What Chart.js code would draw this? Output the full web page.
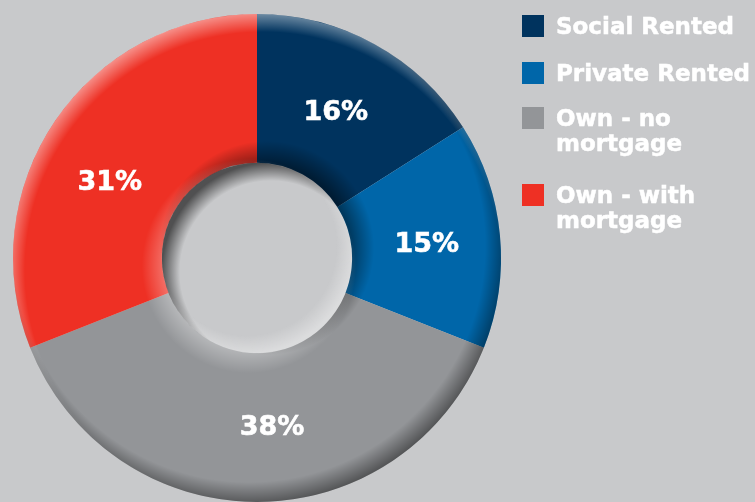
<!DOCTYPE html>
<html>
<head>
<meta charset="utf-8">
<script src="https://cdn.jsdelivr.net/npm/chart.js@4"></script>
<style>
  html, body { margin: 0; padding: 0; background: #c8c9cb; }
  #wrap { position: relative; width: 755px; height: 502px; overflow: hidden; background: #c8c9cb; }
  #c { position: absolute; left: 0; top: 0; }
  #legend { position: absolute; left: 522px; top: 0; margin: 0; padding: 0; list-style: none;
            font-family: "DejaVu Sans", Verdana, sans-serif; font-weight: bold; font-size: 23px;
            color: #ffffff; line-height: 25px; -webkit-text-stroke: 0.5px #ffffff; }
  #legend li { position: absolute; left: 0; padding-left: 34px; white-space: nowrap; }
  #legend li span.sw { position: absolute; left: 0; top: 0; width: 22px; height: 22px; }
  #legend li span.tx { display: block; position: relative; top: -1px; }
</style>
</head>
<body>
<div id="wrap">
  <canvas id="c" width="755" height="502"></canvas>
  <ul id="legend"></ul>
</div>
<script>
const categories = ["Social Rented", "Private Rented", "Own - no mortgage", "Own - with mortgage"];
const legendLines = [["Social Rented"], ["Private Rented"], ["Own - no", "mortgage"], ["Own - with", "mortgage"]];
const shares = [16, 15, 38, 31];
const colors = ["#00335e", "#0066a9", "#939598", "#ee3024"];

// layout (not data)
const legendTops = [15, 62, 107, 184];
const labelNudge = [[-3, 4], [1, 3], [15, 0], [-7, 20]];

const ul = document.getElementById('legend');
legendLines.forEach((lines, i) => {
  const li = document.createElement('li');
  li.style.top = legendTops[i] + 'px';
  const sw = document.createElement('span'); sw.className = 'sw'; sw.style.background = colors[i];
  const tx = document.createElement('span'); tx.className = 'tx';
  tx.innerHTML = lines.join('<br>');
  li.appendChild(sw); li.appendChild(tx); ul.appendChild(li);
});

function ringPath(ctx, cx, cy, R, r) {
  ctx.beginPath();
  ctx.arc(cx, cy, R, 0, Math.PI * 2);
  ctx.arc(cx, cy, r, 0, Math.PI * 2, true);
}
function offGrad(ctx, cx, cy, ox, oy, d0, d1, c0, c1) {
  const rad = Math.max(d0, d1);
  const g = ctx.createRadialGradient(cx + ox, cy + oy, 0, cx + ox, cy + oy, rad);
  const a = Math.min(d0, d1) / rad;
  if (d0 < d1) { g.addColorStop(0, c0); g.addColorStop(a, c0); g.addColorStop(1, c1); }
  else { g.addColorStop(0, c1); g.addColorStop(a, c1); g.addColorStop(1, c0); }
  return g;
}

const shading = {
  id: 'shading',
  afterDatasetsDraw(chart) {
    const a = chart.getDatasetMeta(0).data[0];
    if (!a) return;
    const cx = a.x, cy = a.y, R = a.outerRadius, r = a.innerRadius;
    const ctx = chart.ctx;
    ctx.save();
    ringPath(ctx, cx, cy, R, r);
    ctx.clip();
    ctx.fillStyle = offGrad(ctx, cx, cy, 6, 12, R + 13, R - 6, 'rgba(255,255,255,0.45)', 'rgba(255,255,255,0)');
    ctx.fillRect(cx - R, cy - R, 2 * R, 2 * R);
    ctx.fillStyle = offGrad(ctx, cx, cy, -8, -12, R + 15, R - 8, 'rgba(0,0,0,0.45)', 'rgba(0,0,0,0)');
    ctx.fillRect(cx - R, cy - R, 2 * R, 2 * R);
    ctx.fillStyle = offGrad(ctx, cx, cy, 10, -10, r - 12, r + 12, 'rgba(0,0,0,0.45)', 'rgba(0,0,0,0)');
    ctx.fillRect(cx - R, cy - R, 2 * R, 2 * R);
    ctx.fillStyle = offGrad(ctx, cx, cy, -8, 8, r - 10, r + 12, 'rgba(255,255,255,0.30)', 'rgba(255,255,255,0)');
    ctx.fillRect(cx - R, cy - R, 2 * R, 2 * R);
    ctx.restore();

    ctx.save();
    ctx.beginPath();
    ctx.arc(cx, cy, r, 0, Math.PI * 2);
    ctx.clip();
    ctx.fillStyle = offGrad(ctx, cx, cy, 14, 14, r - 4, r + 14, 'rgba(0,0,0,0)', 'rgba(0,0,0,0.6)');
    ctx.fillRect(cx - r, cy - r, 2 * r, 2 * r);
    ctx.fillStyle = offGrad(ctx, cx, cy, -10, -12, r - 6, r + 12, 'rgba(255,255,255,0)', 'rgba(255,255,255,0.35)');
    ctx.fillRect(cx - r, cy - r, 2 * r, 2 * r);
    ctx.restore();
  }
};

const labelsPlugin = {
  id: 'pctLabels',
  afterDatasetsDraw(chart) {
    const meta = chart.getDatasetMeta(0);
    const ctx = chart.ctx;
    ctx.save();
    ctx.fillStyle = '#ffffff';
    ctx.strokeStyle = '#ffffff';
    ctx.lineWidth = 0.6;
    ctx.font = 'bold 27px "DejaVu Sans", Verdana, sans-serif';
    ctx.textAlign = 'center';
    ctx.textBaseline = 'middle';
    meta.data.forEach((el, i) => {
      const p = el.tooltipPosition();
      const x = p.x + labelNudge[i][0], y = p.y + labelNudge[i][1];
      ctx.fillText(shares[i] + '%', x, y);
      ctx.strokeText(shares[i] + '%', x, y);
    });
    ctx.restore();
  }
};

new Chart(document.getElementById('c'), {
  type: 'doughnut',
  data: {
    labels: categories,
    datasets: [{
      data: shares,
      backgroundColor: colors,
      borderWidth: 0,
      hoverOffset: 0
    }]
  },
  options: {
    responsive: false,
    animation: false,
    cutout: '39%',
    rotation: 0,
    layout: { padding: { left: 13, right: 254, top: 14, bottom: 0 } },
    plugins: {
      legend: { display: false },
      tooltip: { enabled: false },
      title: { display: false }
    }
  },
  plugins: [shading, labelsPlugin]
});
</script>
</body>
</html>
